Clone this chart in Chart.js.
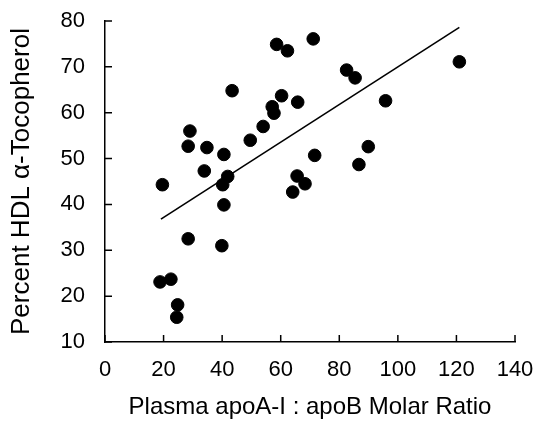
<!DOCTYPE html>
<html>
<head>
<meta charset="utf-8">
<script src="https://cdn.jsdelivr.net/npm/chart.js@4"></script>
<style>
    body { margin: 0; background: #fff; }
    #wrap { width: 537px; height: 426px; }
</style>
</head>
<body>
<div id="wrap"><canvas id="scatterChart" width="537" height="426"></canvas></div>
<script>
// HDL alpha-tocopherol vs apoA-I : apoB ratio

const ratioX = [19.6, 18.8, 22.5, 24.8, 24.5, 28.4, 29.0, 28.4, 34.8, 33.9,
                40.6, 41.9, 40.2, 40.6, 39.9, 43.4, 49.6, 54.0, 57.1, 57.7,
                58.6, 60.3, 62.3, 65.8, 65.6, 68.3, 64.1, 71.1, 71.6, 82.5,
                85.4, 86.7, 89.9, 95.8, 121.0];
const percentY = [44.3, 23.1, 23.7, 18.1, 15.4, 32.5, 56.0, 52.7, 52.4, 47.3,
                  50.9, 46.1, 44.3, 39.9, 31.0, 64.8, 54.0, 57.0, 61.3, 59.9,
                  74.9, 63.7, 73.5, 62.3, 46.2, 44.5, 42.7, 76.1, 50.7, 69.3,
                  67.6, 48.7, 52.6, 62.6, 71.1];

// regression line end points
const fitX = [19.1, 121.0];
const fitY = [36.8, 78.6];

const xTicks = [0, 20, 40, 60, 80, 100, 120, 140];
const yTicks = [10, 20, 30, 40, 50, 60, 70, 80];

const fontFamily = '"Liberation Sans", Arial, sans-serif';

// small tick marks pointing into the plot
const innerTicks = {
    id: 'innerTicks',
    afterDraw(chart) {
        const ctx = chart.ctx;
        const xs = chart.scales.x;
        const ys = chart.scales.y;
        const area = chart.chartArea;
        ctx.save();
        ctx.strokeStyle = '#000';
        ctx.lineWidth = 1.5;
        ctx.beginPath();
        xTicks.forEach(v => {
            const px = xs.getPixelForValue(v);
            ctx.moveTo(px, area.bottom);
            ctx.lineTo(px, area.bottom - 7);
        });
        yTicks.forEach(v => {
            const py = ys.getPixelForValue(v);
            ctx.moveTo(area.left, py);
            ctx.lineTo(area.left + 7, py);
        });
        ctx.stroke();
        ctx.restore();
    }
};

new Chart(document.getElementById('scatterChart').getContext('2d'), {
    type: 'scatter',
    data: {
        datasets: [{
            label: 'Subjects',
            data: ratioX.map((x, i) => ({ x: x, y: percentY[i] })),
            backgroundColor: '#000',
            borderColor: '#000',
            pointRadius: 6.3,
            pointHoverRadius: 6.3,
            clip: false
        }, {
            type: 'line',
            label: 'Fit',
            data: fitX.map((x, i) => ({ x: x, y: fitY[i] })),
            borderColor: '#000',
            borderWidth: 1.6,
            pointRadius: 0,
            fill: false
        }]
    },
    options: {
        responsive: false,
        animation: false,
        layout: {
            padding: { left: 0, right: 22, top: 21, bottom: 0 }
        },
        plugins: {
            legend: { display: false },
            tooltip: { enabled: false }
        },
        scales: {
            x: {
                type: 'linear',
                min: 0,
                max: 140,
                afterFit: scale => {
                    scale.height = 84;
                    scale.paddingLeft = 0;
                    scale.paddingRight = 0;
                },
                afterBuildTicks: scale => {
                    scale.ticks = xTicks.map(v => ({ value: v }));
                },
                grid: { display: false },
                border: { display: true, color: '#000', width: 1.5 },
                ticks: {
                    color: '#000',
                    padding: 7,
                    font: { family: fontFamily, size: 22 }
                },
                title: {
                    display: true,
                    text: 'Plasma apoA-I : apoB Molar Ratio',
                    color: '#000',
                    padding: { top: 12, bottom: 4 },
                    font: { family: fontFamily, size: 24 }
                }
            },
            y: {
                type: 'linear',
                min: 10,
                max: 80,
                afterFit: scale => {
                    scale.width = 105;
                    scale.paddingTop = 0;
                    scale.paddingBottom = 0;
                },
                afterBuildTicks: scale => {
                    scale.ticks = yTicks.map(v => ({ value: v }));
                },
                grid: { display: false },
                border: { display: true, color: '#000', width: 1.5 },
                ticks: {
                    color: '#000',
                    padding: 12,
                    font: { family: fontFamily, size: 22 }
                },
                title: {
                    display: true,
                    text: 'Percent HDL α-Tocopherol',
                    color: '#000',
                    padding: { top: 6 },
                    font: { family: fontFamily, size: 26 }
                }
            }
        }
    },
    plugins: [innerTicks]
});
</script>
</body>
</html>
